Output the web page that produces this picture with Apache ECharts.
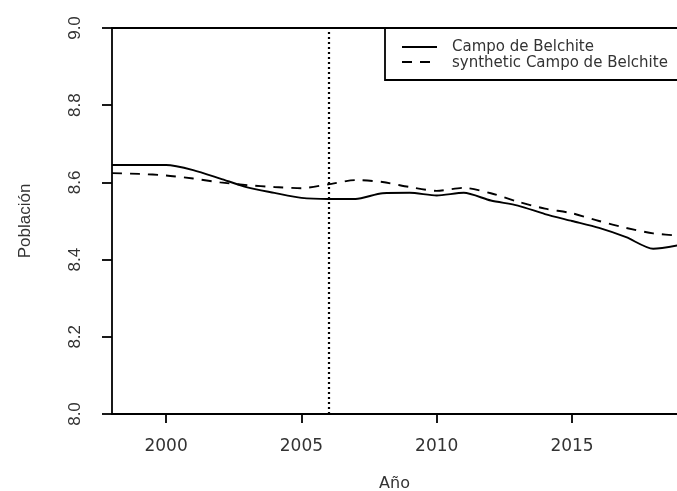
<!DOCTYPE html>
<html>
<head>
<meta charset="utf-8">
<script src="https://cdn.jsdelivr.net/npm/echarts@6/dist/echarts.min.js"></script>
<style>html,body{margin:0;padding:0;background:#fff;}#c{width:677px;height:491px;}</style>
</head>
<body>
<div id="c"></div>
<script>
const years = [1998,1999,2000,2001,2002,2003,2004,2005,2006,2007,2008,2009,2010,2011,2012,2013,2014,2015,2016,2017,2018,2019];
const treated = [8.645,8.645,8.645,8.632,8.610,8.587,8.573,8.560,8.557,8.557,8.572,8.573,8.566,8.573,8.553,8.540,8.518,8.500,8.482,8.458,8.428,8.438];
const synthetic = [8.624,8.622,8.618,8.610,8.600,8.593,8.588,8.585,8.595,8.606,8.601,8.588,8.578,8.586,8.572,8.550,8.532,8.520,8.500,8.482,8.468,8.462];
const xTicks = [2000,2005,2010,2015];
const yTicks = [8.0,8.2,8.4,8.6,8.8,9.0];
const treatmentYear = 2006;
const seriesNames = ['Campo de Belchite','synthetic Campo de Belchite'];
const xTitle = 'Año';
const yTitle = 'Población';

const chart = echarts.init(document.getElementById('c'), null, {renderer:'canvas'});
const txt = '#333';
const hFont = 'DejaVu Sans';
const vFont = 'Liberation Sans';
const xMin = 1998, xMax = 2018.88;

chart.setOption({
  animation:false,
  backgroundColor:'#fff',
  grid:{left:112, top:28, right:0, bottom:77, containLabel:false, outerBoundsMode:'none'},
  xAxis:[{
    type:'value', min:xMin, max:xMax, position:'bottom',
    splitLine:{show:false},
    axisLine:{show:true, onZero:false, lineStyle:{color:'#000', width:1.8}},
    axisTick:{show:true, length:9, customValues:xTicks, lineStyle:{color:'#000', width:1.8}},
    axisLabel:{customValues:xTicks, margin:24, fontFamily:hFont, fontSize:17, color:txt, formatter:v=>String(v)},
    name:xTitle, nameLocation:'middle', nameGap:62,
    nameTextStyle:{fontFamily:hFont, fontSize:16, color:txt}
  },{
    type:'value', min:xMin, max:xMax, position:'top',
    splitLine:{show:false},
    axisLine:{show:true, onZero:false, lineStyle:{color:'#000', width:1.8}},
    axisTick:{show:false}, axisLabel:{show:false}
  }],
  yAxis:{
    type:'value', min:8.0, max:9.0, position:'left',
    splitLine:{show:false},
    axisLine:{show:true, onZero:false, lineStyle:{color:'#000', width:1.8}},
    axisTick:{show:true, length:10, customValues:yTicks, lineStyle:{color:'#000', width:1.8}},
    axisLabel:{customValues:yTicks, rotate:90, margin:28, fontFamily:vFont, fontSize:17, color:txt, formatter:v=>Number(v).toFixed(1)},
    name:yTitle, nameLocation:'middle', nameGap:78, nameRotate:90,
    nameTextStyle:{fontFamily:vFont, fontSize:17, color:txt}
  },
  series:[{
    name:seriesNames[0], type:'line', xAxisIndex:0, smooth:0.25, symbol:'none', clip:true,
    data:years.map((y,i)=>[y,treated[i]]),
    lineStyle:{color:'#000', width:1.9, type:'solid'},
    markLine:{silent:true, symbol:'none', label:{show:false},
      lineStyle:{color:'#000', width:2.2, type:[2,3]},
      data:[{xAxis:treatmentYear}]}
  },{
    name:seriesNames[1], type:'line', xAxisIndex:0, smooth:0.25, symbol:'none', clip:true,
    data:years.map((y,i)=>[y,synthetic[i]]),
    lineStyle:{color:'#000', width:1.9, type:[10,8]}
  }],
  graphic:[
    {type:'rect', shape:{x:385, y:28, width:400, height:52}, style:{fill:'#fff', stroke:'#000', lineWidth:1.8}, z:100},
    {type:'line', shape:{x1:402, y1:47, x2:437, y2:47}, style:{stroke:'#000', lineWidth:1.9}, z:101},
    {type:'line', shape:{x1:402, y1:62, x2:437, y2:62}, style:{stroke:'#000', lineWidth:1.9, lineDash:[10,8]}, z:101},
    {type:'text', x:452, y:47, style:{text:seriesNames[0], fontFamily:hFont, fontSize:15, fill:txt, verticalAlign:'middle', align:'left'}, z:101},
    {type:'text', x:452, y:63, style:{text:seriesNames[1], fontFamily:hFont, fontSize:15, fill:txt, verticalAlign:'middle', align:'left'}, z:101}
  ]
});
</script>
</body>
</html>
